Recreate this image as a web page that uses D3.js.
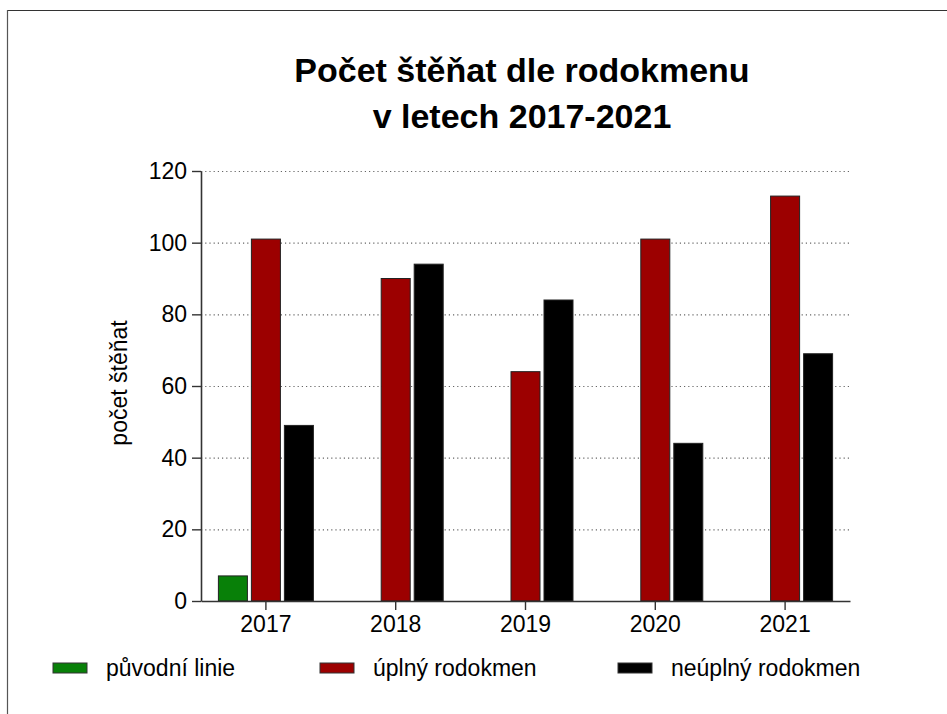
<!DOCTYPE html>
<html>
<head>
<meta charset="utf-8">
<script src="https://cdn.jsdelivr.net/npm/d3@7"></script>
<style>
  html, body { margin: 0; padding: 0; background: #fff; }
  svg { display: block; font-family: "Liberation Sans", Arial, sans-serif; }
</style>
</head>
<body>
<svg id="chart" width="947" height="714"></svg>
<script>
const years = ["2017", "2018", "2019", "2020", "2021"];
const seriesNames = ["původní linie", "úplný rodokmen", "neúplný rodokmen"];
const seriesColors = ["#088008", "#9c0000", "#000000"];
const puvodniLinie = [7, null, null, null, null];
const uplnyRodokmen = [101, 90, 64, 101, 113];
const neuplnyRodokmen = [49, 94, 84, 44, 69];
const yTicks = [0, 20, 40, 60, 80, 100, 120];
const titleLines = ["Počet štěňat dle rodokmenu", "v letech 2017-2021"];
const yLabel = "počet štěňat";

(function () {
const seriesValues = [puvodniLinie, uplnyRodokmen, neuplnyRodokmen];

const svg = d3.select("#chart");
const W = 947, H = 714;
const mLeft = 201, mRight = 850, mTop = 171, mBottom = 601;

// frame (top and left edges)
svg.append("line").attr("x1", 7).attr("x2", W).attr("y1", 10.5).attr("y2", 10.5)
  .attr("stroke", "#333").attr("stroke-width", 1.2);
svg.append("line").attr("x1", 7.5).attr("x2", 7.5).attr("y1", 10).attr("y2", H)
  .attr("stroke", "#555").attr("stroke-width", 1.2);

const y = d3.scaleLinear().domain([0, 120]).range([mBottom, mTop]);
const x0 = d3.scaleBand().domain(years).range([mLeft, mRight]).padding(0);
const groupW = 95;
const x1 = d3.scaleBand().domain(seriesNames)
  .range([(x0.bandwidth() - groupW) / 2, (x0.bandwidth() + groupW) / 2])
  .paddingInner(0.121).paddingOuter(0);

// gridlines
svg.append("g").selectAll("line")
  .data(yTicks.filter(t => t > 0))
  .join("line")
  .attr("x1", mLeft).attr("x2", mRight)
  .attr("y1", d => y(d) + 0.5).attr("y2", d => y(d) + 0.5)
  .attr("stroke", "#666").attr("stroke-width", 1.2)
  .attr("stroke-dasharray", "1.2,3");

// bars
const barData = [];
years.forEach((yr, i) => {
  seriesNames.forEach((s, j) => {
    const v = seriesValues[j][i];
    if (v != null) barData.push({ year: yr, series: s, value: v, color: seriesColors[j] });
  });
});
svg.append("g").selectAll("rect")
  .data(barData)
  .join("rect")
  .attr("x", d => x0(d.year) + x1(d.series))
  .attr("y", d => y(d.value))
  .attr("width", x1.bandwidth())
  .attr("height", d => y(0) - y(d.value))
  .attr("fill", d => d.color)
  .attr("stroke", "#222").attr("stroke-width", 1);

// axes
const yAxis = svg.append("g").attr("transform", `translate(${mLeft},0)`)
  .call(d3.axisLeft(y).tickValues(yTicks).tickSize(9).tickPadding(5).tickSizeOuter(0));
const xAxis = svg.append("g").attr("transform", `translate(0,${mBottom})`)
  .call(d3.axisBottom(x0).tickSize(9).tickPadding(6).tickSizeOuter(0));
[yAxis, xAxis].forEach(a => {
  a.select(".domain").attr("stroke", "#333").attr("stroke-width", 1.6);
  a.selectAll(".tick line").attr("stroke", "#333").attr("stroke-width", 1.4);
  a.selectAll(".tick text").attr("font-size", 23).attr("fill", "#000")
    .attr("font-family", "'Liberation Sans', Arial, sans-serif");
});

// y label
svg.append("text")
  .attr("transform", `translate(127,383) rotate(-90)`)
  .attr("text-anchor", "middle")
  .attr("font-size", 23)
  .attr("fill", "#000")
  .text(yLabel);

// title
svg.append("g").selectAll("text")
  .data(titleLines)
  .join("text")
  .attr("x", 522)
  .attr("y", (d, i) => 82 + i * 46)
  .attr("text-anchor", "middle")
  .attr("font-size", 34)
  .attr("font-weight", "bold")
  .attr("fill", "#000")
  .text(d => d);

// legend
const legendX = [53, 320, 618];
const lg = svg.append("g").selectAll("g")
  .data(seriesNames)
  .join("g")
  .attr("transform", (d, i) => `translate(${legendX[i]},663)`);
lg.append("rect")
  .attr("width", 34).attr("height", 10)
  .attr("fill", (d, i) => seriesColors[i])
  .attr("stroke", "#333").attr("stroke-width", 1);
lg.append("text")
  .attr("x", 53).attr("y", 13)
  .attr("font-size", 23)
  .attr("fill", "#000")
  .text(d => d);
})();
</script>
</body>
</html>
